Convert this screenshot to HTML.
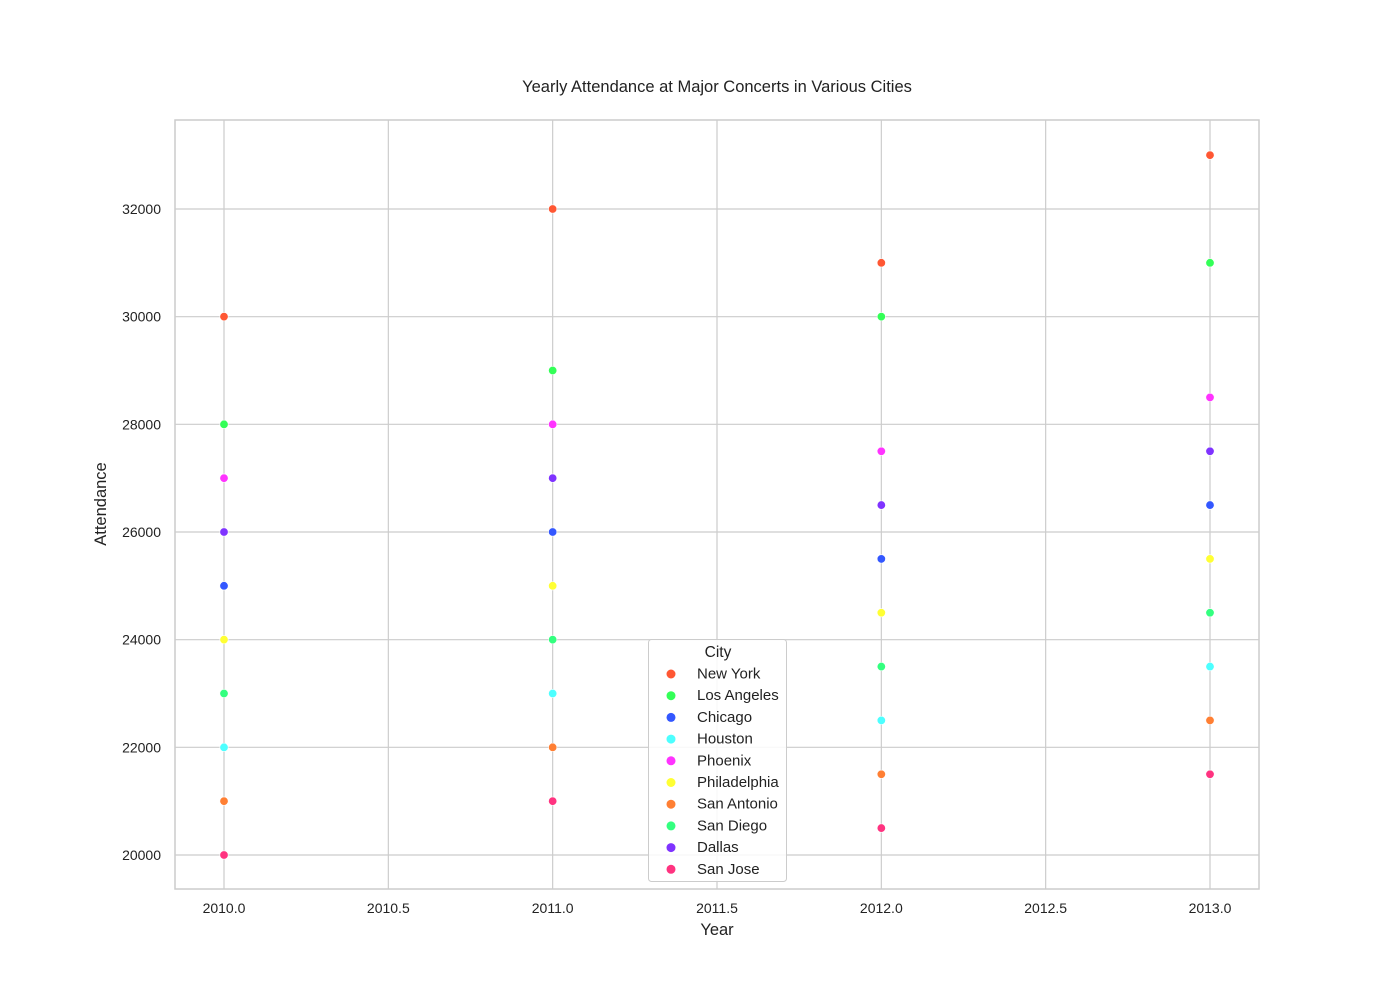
<!DOCTYPE html>
<html><head><meta charset="utf-8"><style>
body{margin:0;background:#fff;font-family:"Liberation Sans",sans-serif}
</style></head><body>
<svg id="chart" width="1400" height="1000" xmlns="http://www.w3.org/2000/svg" font-family="Liberation Sans, sans-serif"></svg>
<script>
const years=[2010,2011,2012,2013];
const cities=["New York","Los Angeles","Chicago","Houston","Phoenix","Philadelphia","San Antonio","San Diego","Dallas","San Jose"];
const colors=["#ff5733","#33ff57","#3357ff","#4dffff","#ff33ff","#ffff33","#ff7f33","#33ff7f","#7f33ff","#ff3380"];
const nyVals=[30000,32000,31000,33000];
const laVals=[28000,29000,30000,31000];
const chicagoVals=[25000,26000,25500,26500];
const houstonVals=[22000,23000,22500,23500];
const phoenixVals=[27000,28000,27500,28500];
const phillyVals=[24000,25000,24500,25500];
const saVals=[21000,22000,21500,22500];
const sdVals=[23000,24000,23500,24500];
const dallasVals=[26000,27000,26500,27500];
const sjVals=[20000,21000,20500,21500];
const xTicks=["2010.0","2010.5","2011.0","2011.5","2012.0","2012.5","2013.0"];
const yTicks=["20000","22000","24000","26000","28000","30000","32000"];
const series=[nyVals,laVals,chicagoVals,houstonVals,phoenixVals,phillyVals,saVals,sdVals,dallasVals,sjVals];
const L=175,R=1259,T=120,B=889;
const xs=v=>224+(v-2010)*(1210-224)/3;
const ys=v=>855-(v-20000)*(855-209)/12000;
const svg=document.getElementById('chart');
const NS="http://www.w3.org/2000/svg";
function mk(tag,attrs,text){const e=document.createElementNS(NS,tag);for(const k in attrs)e.setAttribute(k,attrs[k]);if(text!==undefined)e.textContent=text;svg.appendChild(e);return e;}
let e;
e=mk('rect',{x:L,y:T,width:R-L,height:B-T,fill:'#fff',stroke:'none'});


xTicks.forEach(t=>{const x=xs(parseFloat(t));
 e=mk('line',{x1:x,x2:x,y1:T,y2:B,stroke:'#cccccc','stroke-width':1.2});
 
 
 e=mk('text',{x:x,y:913,'text-anchor':'middle','font-size':14,fill:'#222'},t);
 
 
});
yTicks.forEach(t=>{const y=ys(parseFloat(t));
 e=mk('line',{x1:L,x2:R,y1:y,y2:y,stroke:'#cccccc','stroke-width':1.2});
 
 
 e=mk('text',{x:161,y:y+5,'text-anchor':'end','font-size':14,fill:'#222'},t);
 
 
});
e=mk('rect',{x:L,y:T,width:R-L,height:B-T,fill:'none',stroke:'#cccccc','stroke-width':1.5});


series.forEach((vals,i)=>{vals.forEach((v,j)=>{
 e=mk('circle',{cx:xs(years[j]),cy:ys(v),r:4.2,fill:colors[i],stroke:'#fff','stroke-width':0.6});
 
 
});});
e=mk('text',{x:717,y:92,'text-anchor':'middle','font-size':16.5,fill:'#222'},'Yearly Attendance at Major Concerts in Various Cities');


e=mk('text',{x:717,y:935,'text-anchor':'middle','font-size':16.5,fill:'#222'},'Year');


e=mk('text',{x:106,y:504,'text-anchor':'middle','font-size':16.5,fill:'#222',transform:'rotate(-90 106 504)'},'Attendance');


e=mk('rect',{x:648.5,y:639.5,width:138,height:242,rx:3,fill:'#fff','fill-opacity':0.85,stroke:'#cccccc'});


e=mk('text',{x:718,y:657,'text-anchor':'middle','font-size':15.5,fill:'#222'},'City');


cities.forEach((c,i)=>{const y=673+i*21.7;
 e=mk('circle',{cx:671,cy:y+1,r:4.5,fill:colors[i]});
 
 
 e=mk('text',{x:697,y:y+5.5,'font-size':15,fill:'#222'},c);
 
 
});
</script>
</body></html>
